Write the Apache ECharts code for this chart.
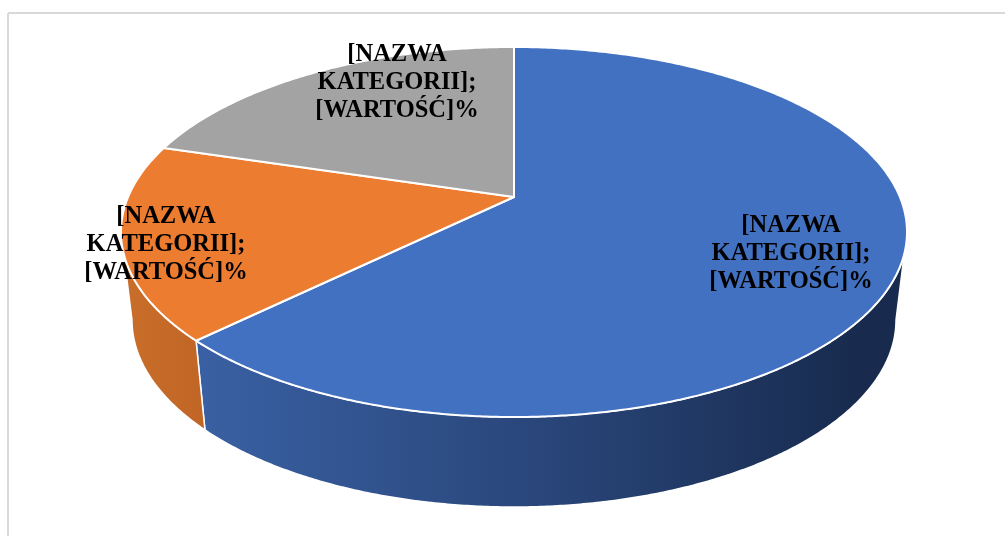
<!DOCTYPE html>
<html>
<head>
<meta charset="utf-8">
<style>
html, body { margin: 0; padding: 0; background: #fff; }
#chart { width: 1006px; height: 536px; }
</style>
<script src="https://cdn.jsdelivr.net/npm/echarts@6/dist/echarts.min.js"></script>
</head>
<body>
<div id="chart"></div>
<script>
// dane wykresu
var categories = ['A', 'B', 'C'];
var values = [65, 17.5, 17.5];
var labelText = '[NAZWA\nKATEGORII];\n[WARTOŚĆ]%';
var topColors = ['#4371c1', '#eb7c30', '#a3a3a3'];

// geometry of the tilted pie: rim, base and apex of the top face
var rim = { cx: 514, cy: 232, rx: 393, ry: 185 };
var base = { cx: 514, cy: 320, rx: 382, ry: 187 };
var apex = [514, 197];
var labelPos = [[791, 254], [166, 244.5], [397, 83]];

var total = values.reduce(function (a, b) { return a + b; }, 0);
var starts = [];
values.reduce(function (sum, v, i) { starts[i] = sum; return sum + v; }, 0);
var seriesData = values.map(function (v, i) { return [v, starts[i], i]; });

function onEllipse(e, deg) {
  var t = deg * Math.PI / 180;
  return [e.cx + e.rx * Math.sin(t), e.cy - e.ry * Math.cos(t)];
}

function arc(e, from, to) {
  var pts = [];
  var n = Math.max(2, Math.ceil(Math.abs(to - from) * 2));
  for (var i = 0; i <= n; i++) {
    pts.push(onEllipse(e, from + (to - from) * i / n));
  }
  return pts;
}

function sideFill(i) {
  if (i === 0) {
    return new echarts.graphic.LinearGradient(190, 0, 860, 0, [
      { offset: 0, color: '#3a61a4' },
      { offset: 0.5, color: '#2a477c' },
      { offset: 1, color: '#182b4e' }
    ], true);
  }
  return new echarts.graphic.LinearGradient(125, 0, 210, 0, [
    { offset: 0, color: '#c96d2a' },
    { offset: 1, color: '#c16526' }
  ], true);
}

// only the part between the right and left extreme of the pie shows a wall
function renderSide(params, api) {
  var from = api.value(1) / total * 360;
  var to = (api.value(1) + api.value(0)) / total * 360;
  from = Math.max(from, 90);
  to = Math.min(to, 270);
  if (to <= from) return;
  var pts = arc(rim, from, to).concat(arc(base, to, from));
  return {
    type: 'polygon',
    shape: { points: pts },
    style: { fill: sideFill(api.value(2)), stroke: '#fff', lineWidth: 1.5 }
  };
}

function renderTop(params, api) {
  var from = api.value(1) / total * 360;
  var to = (api.value(1) + api.value(0)) / total * 360;
  return {
    type: 'polygon',
    shape: { points: [apex].concat(arc(rim, from, to)) },
    style: { fill: topColors[api.value(2)], stroke: '#fff', lineWidth: 2, lineJoin: 'round' }
  };
}

function renderLabel(params, api) {
  var p = labelPos[api.value(2)];
  return {
    type: 'text',
    x: p[0],
    y: p[1],
    style: {
      text: labelText,
      fill: '#000',
      font: 'bold 24.5px "Liberation Serif"',
      lineHeight: 28,
      align: 'center',
      verticalAlign: 'middle'
    }
  };
}

var myChart = echarts.init(document.getElementById('chart'), null, { renderer: 'canvas' });
myChart.setOption({
  animation: false,
  backgroundColor: '#fff',
  graphic: [
    { type: 'line', shape: { x1: 8, y1: 13, x2: 1005, y2: 13 }, style: { stroke: '#d9d9d9', lineWidth: 2 } },
    { type: 'line', shape: { x1: 8, y1: 13, x2: 8, y2: 536 }, style: { stroke: '#d9d9d9', lineWidth: 2 } }
  ],
  series: [
    { type: 'custom', coordinateSystem: 'none', silent: true, z: 1, renderItem: renderSide, data: seriesData },
    { type: 'custom', coordinateSystem: 'none', silent: true, z: 2, renderItem: renderTop, data: seriesData },
    { type: 'custom', coordinateSystem: 'none', silent: true, z: 3, renderItem: renderLabel, data: seriesData }
  ]
});
</script>
</body>
</html>
